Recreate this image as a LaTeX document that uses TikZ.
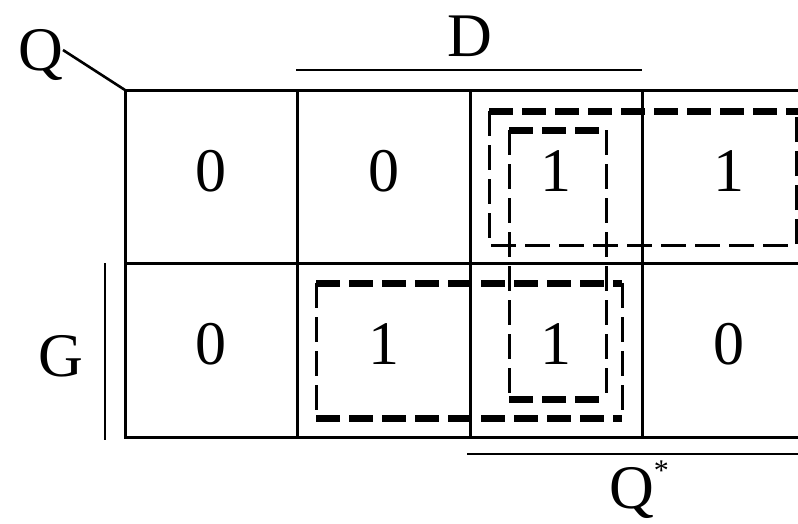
\documentclass[tikz,border=0pt]{standalone}
\usepackage{fontspec}
\setmainfont{Liberation Serif}
\usepackage{tikz}
\usetikzlibrary{positioning}

\begin{document}
\begin{tikzpicture}[x=1pt, y=-1pt,
        cell/.style={draw, line width=3pt, outer sep=0pt, minimum width=172.5pt, minimum height=173.5pt, inner sep=0pt, text depth=12pt, font=\fontsize{62}{66}\selectfont}, % Map cells
        varname/.style={inner sep=0pt, font=\fontsize{62}{66}\selectfont}, % Variable labels
        bar/.style={line width=2.6pt}, % Bars over the columns and rows
        thickdash/.style={line width=7pt, dash pattern=on 24pt off 9pt}, % Thick dashed edges
        thindash/.style={line width=3pt, dash pattern=on 25pt off 9pt} % Thin dashed edges
        ]
    \clip (0,0) rectangle (798,523);

    % Cells of the map, top row then bottom row
    \node[cell] (a1) at (211.25,176.75) {0};
    \node[cell, right=0pt of a1] (a2) {0};
    \node[cell, right=0pt of a2] (a3) {1};
    \node[cell, right=0pt of a3] (a4) {1};
    \node[cell, below=0pt of a1] (b1) {0};
    \node[cell, right=0pt of b1] (b2) {1};
    \node[cell, right=0pt of b2] (b3) {1};
    \node[cell, right=0pt of b3] (b4) {0};

    % Variable names with their bars
    \node[varname] (q) at (41,55) {Q};
    \coordinate (qe) at (63,50);
    \draw[bar] (qe) -- (a1.north west);
    \node[varname] (d) at (470,36) {D};
    \draw[bar] (296,70) -- (642,70);
    \node[varname] (g) at (61,356) {G};
    \draw[bar] (105,263) -- (105,440);
    \node[varname] (qs) at (639,490) {Q\raisebox{28pt}{\fontsize{30}{32}\selectfont *}};
    \draw[bar] (467,454) -- (800,454);

    % Groups of ones
    \draw[thickdash] (489,111) -- (800,111);
    \draw[thindash] (489,111) -- (489,245) -- (796,245) -- (796,111);
    \draw[thickdash] (509,130) -- (606,130);
    \draw[thindash] (509,130) -- (509,399);
    \draw[thindash] (606,130) -- (606,399);
    \draw[thickdash] (509,399) -- (606,399);
    \draw[thickdash] (316,283) -- (622,283);
    \draw[thickdash] (316,418) -- (622,418);
    \draw[thindash] (316,283) -- (316,418);
    \draw[thindash] (622,283) -- (622,418);
\end{tikzpicture}
\end{document}
